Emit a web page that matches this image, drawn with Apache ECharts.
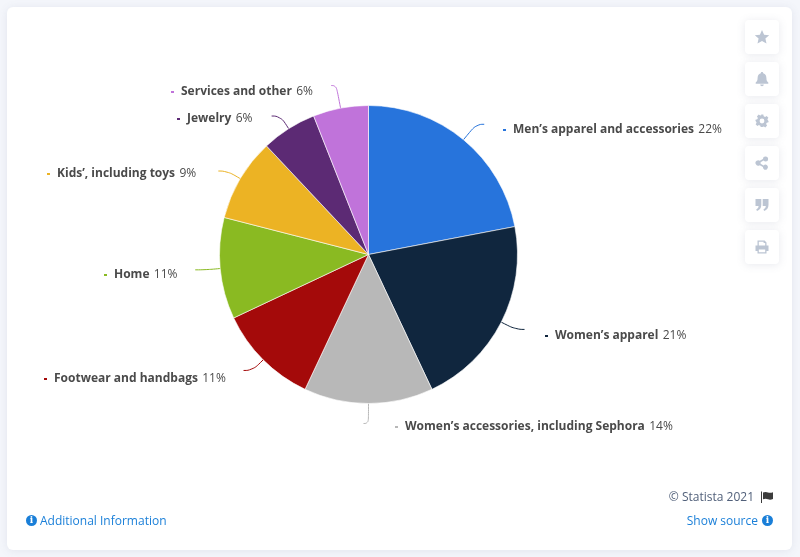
<!DOCTYPE html>
<html><head><meta charset="utf-8">
<style>html,body{margin:0;padding:0;background:#f4f6fb}#c{width:800px;height:557px}</style>
<script src="https://cdn.jsdelivr.net/npm/echarts@6/dist/echarts.min.js"></script>
</head><body><div id="c"></div>
<script>
const categories = ["Men’s apparel and accessories","Women’s apparel","Women’s accessories, including Sephora","Footwear and handbags","Home","Kids’, including toys","Jewelry","Services and other"];
const shares = [22,21,14,11,11,9,6,6];
const colors = ["#2774dc","#10263e","#b8b8b8","#a40a0a","#8aba22","#ecb324","#5c2a74","#c073da"];
const labelX = [503,545,395,44,104,47,177,171];
const labelY = [130,336,427,379,275,174,119,92];
const lineLen = [20,16,20,15,14,15,15,23];
const lineTail = [8,9,5,9,11,9,9,5];
const FONT = '"Open Sans", sans-serif';
const center = [368.5,254.5], radius = 149;
const icons = {
 star:"M0-7 2.1-2.3 7.2-1.8 3.4 1.6 4.5 6.6 0 4 -4.5 6.6 -3.4 1.6 -7.2-1.8 -2.1-2.3Z",
 bell:"M0-7C.8-7 1.2-6.5 1.2-5.8 3.5-5.2 4.4-3.3 4.4-1 4.4 1.5 5.2 2.7 6.3 3.6V4.8H-6.3V3.6C-5.2 2.7-4.4 1.5-4.4-1-4.4-3.3-3.5-5.2-1.2-5.8-1.2-6.5-.8-7 0-7ZM-1.8 5.6H1.8C1.7 6.6 1 7.2 0 7.2S-1.7 6.6-1.8 5.6Z",
 gear:"M-1.3-6.5H1.3L1.7-4.7 3.1-4.1 4.6-5.1 6.4-3.3 5.4-1.8 6-.4 6.5 0V1.3L4.7 1.7 4.1 3.1 5.1 4.6 3.3 6.4 1.8 5.4.4 6H-1.3L-1.7 4.7-3.1 4.1-4.6 5.1-6.4 3.3-5.4 1.8-6 .4-6.5 0V-1.3L-4.7-1.7-4.1-3.1-5.1-4.6-3.3-6.4-1.8-5.4-.4-6ZM0-2.4A2.4 2.4 0 1 0 0 2.4 2.4 2.4 0 1 0 0-2.4Z",
 share:"M3.6-6.4A2.5 2.5 0 1 1 1.6-2.4L-1.4-.7V.7L1.6 2.4A2.5 2.5 0 1 1 .9 4L-2.2 2.2A2.7 2.7 0 1 1-2.2-2.2L.9-4A2.5 2.5 0 0 1 3.6-6.4Z",
 quote:"M-6.5-6H-.7V-.3C-.7 3-2.3 5-5 6L-5.8 4.4C-4.3 3.7-3.5 2.7-3.4 1H-6.5ZM.7-6H6.5V-.3C6.5 3 4.9 5 2.2 6L1.4 4.4C2.9 3.7 3.7 2.7 3.8 1H.7Z",
 print:"M-4.5-6.5H2.6L4.5-4.6V-1.5H6.5V4H4.5V6.5H-4.5V4H-6.5V-1.5H-4.5ZM-3.2-5.2V-1.5H3.2V-4H1.6V-5.2ZM-3.2 2.5V5.2H3.2V2.5Z",
 flag:"M-6-5.5H-5V6H-6ZM-4-4.5C-2-5.5 0-5 1-4.5 2.5-4 4-4 6-4.8V2C4 2.8 2.5 2.8 1 2.3 0 1.8-2 1.3-4 2.3Z"
};
Object.keys(icons).forEach(n=>echarts.graphic.registerShape('ic_'+n, echarts.graphic.extendPath(icons[n],{})));
const iconNames = ["star","bell","gear","share","quote","print"];
function infoIcon(x,y){return [
 {type:'circle',shape:{cx:x,cy:y,r:5.5},style:{fill:'#1a7fd8'},z:5},
 {type:'text',x:x,y:y,style:{text:'i',fill:'#fff',font:'bold 9px "DejaVu Serif", serif',align:'center',verticalAlign:'middle'},z:6}
];}
const graphics = [
 {type:'rect',shape:{x:7,y:7,width:785,height:543,r:6},style:{fill:'#fff',shadowBlur:8,shadowColor:'rgba(100,110,140,.12)',shadowOffsetY:1},z:-10}
];
iconNames.forEach((n,i)=>{
  const cy = 37+42*i;
  graphics.push({type:'rect',shape:{x:745,y:cy-17,width:34,height:34,r:4},style:{fill:'#fff',shadowBlur:8,shadowColor:'rgba(100,110,140,.15)',shadowOffsetY:1},z:-5});
  graphics.push({type:'ic_'+n,x:762,y:cy,style:{fill:'#bcc5d3',fillRule:'evenodd'},z:1});
});
graphics.push(
 {type:'text',x:754,y:498,style:{text:'© Statista 2021',fill:'#51607a',font:'12px '+FONT,align:'right',verticalAlign:'middle'}},
 {type:'ic_flag',x:767,y:497,style:{fill:'#3c3c3c'}},
 {type:'text',x:758,y:522,style:{text:'Show source',fill:'#1a7fd8',font:'12px '+FONT,align:'right',verticalAlign:'middle'}},
 {type:'text',x:40,y:522,style:{text:'Additional Information',fill:'#1a7fd8',font:'12px '+FONT,align:'left',verticalAlign:'middle'}},
 ...infoIcon(767.5,520.5),...infoIcon(31.5,520.5)
);
const rich = {n:{fontFamily:FONT,fontWeight:'bold',fontSize:12,color:'#4a4a4a'},v:{fontFamily:FONT,fontSize:12,color:'#4a4a4a',padding:[0,0,0,1]}};
colors.forEach((c,i)=>{rich['b'+i]={backgroundColor:c,width:3,height:2};});
rich.g={width:7,height:2};
const lineData = categories.map((name,i)=>({name,value:shares[i],
  itemStyle:{color:colors[i]},
  labelLine:{length:lineLen[i],length2:lineTail[i],smooth:0.5,lineStyle:{color:colors[i],width:1}}}));
const labelData = categories.map((name,i)=>({name,value:shares[i],itemStyle:{color:'transparent'}}));
const option = {
 animation:false,
 graphic:{elements:graphics},
 series:[
  {type:'pie',name:'slices',radius:radius,center:center,startAngle:90,clockwise:true,avoidLabelOverlap:false,silent:true,z:2,
   itemStyle:{borderColor:'#fff',borderWidth:0.6},
   label:{show:true,formatter:' ',fontSize:1,color:'transparent',distanceToLabelLine:0},
   labelLine:{show:true},data:lineData},
  {type:'pie',name:'labels',radius:radius,center:center,startAngle:90,clockwise:true,avoidLabelOverlap:false,silent:true,z:3,
   label:{show:true,position:'outside',alignTo:'none',
     formatter:p=>`{b${p.dataIndex}|}{g|}{n|${p.name}} {v|${p.value}%}`,rich},
   labelLine:{show:false},
   labelLayout:p=>({x:labelX[p.dataIndex],y:labelY[p.dataIndex],align:'left',verticalAlign:'middle'}),
   data:labelData}
 ]
};
echarts.init(document.getElementById('c')).setOption(option);
</script></body></html>
